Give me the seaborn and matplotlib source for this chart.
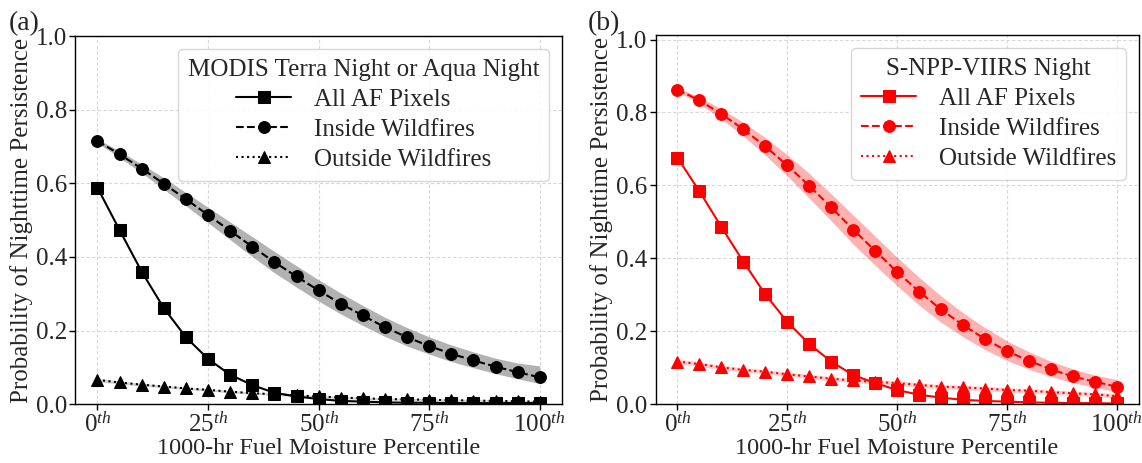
import numpy as np
import pandas as pd
import matplotlib
matplotlib.use('Agg')
import matplotlib.pyplot as plt
import seaborn as sns

percentiles = list(range(0, 101, 5))

# panel (a) MODIS
a_all = [0.588, 0.473, 0.36, 0.261, 0.182, 0.123, 0.08, 0.052, 0.031, 0.021, 0.014,
         0.009, 0.007, 0.005, 0.004, 0.004, 0.003, 0.003, 0.003, 0.003, 0.003]
a_in = [0.715, 0.679, 0.64, 0.599, 0.557, 0.514, 0.471, 0.428, 0.386, 0.347, 0.309,
        0.273, 0.241, 0.209, 0.182, 0.158, 0.137, 0.119, 0.102, 0.087, 0.073]
a_in_hi = [0.72, 0.688, 0.652, 0.615, 0.575, 0.535, 0.495, 0.455, 0.415, 0.376, 0.338,
           0.302, 0.268, 0.236, 0.208, 0.183, 0.161, 0.142, 0.125, 0.112, 0.104]
a_in_lo = [0.71, 0.67, 0.628, 0.584, 0.539, 0.493, 0.447, 0.401, 0.357, 0.318, 0.28,
           0.245, 0.214, 0.184, 0.158, 0.136, 0.116, 0.099, 0.083, 0.069, 0.056]
a_out = [0.066, 0.059, 0.053, 0.048, 0.043, 0.039, 0.034, 0.030, 0.027, 0.024, 0.021,
         0.018, 0.016, 0.014, 0.013, 0.012, 0.011, 0.010, 0.009, 0.008, 0.007]
a_out_hi = [0.071, 0.063, 0.057, 0.051, 0.046, 0.042, 0.037, 0.033, 0.030, 0.027, 0.024,
            0.021, 0.019, 0.017, 0.016, 0.015, 0.014, 0.013, 0.012, 0.011, 0.010]
a_out_lo = [0.061, 0.055, 0.049, 0.045, 0.040, 0.036, 0.031, 0.027, 0.024, 0.021, 0.018,
            0.015, 0.013, 0.011, 0.010, 0.009, 0.008, 0.007, 0.006, 0.005, 0.004]

# panel (b) VIIRS
b_all = [0.676, 0.584, 0.486, 0.391, 0.301, 0.226, 0.165, 0.117, 0.08, 0.058, 0.039,
         0.026, 0.018, 0.012, 0.009, 0.007, 0.005, 0.004, 0.003, 0.003, 0.002]
b_in = [0.863, 0.833, 0.796, 0.754, 0.707, 0.655, 0.599, 0.54, 0.479, 0.421, 0.363,
        0.309, 0.26, 0.217, 0.179, 0.146, 0.119, 0.096, 0.076, 0.062, 0.048]
b_in_hi = [0.868, 0.842, 0.81, 0.773, 0.731, 0.684, 0.633, 0.577, 0.519, 0.461, 0.403,
           0.348, 0.297, 0.251, 0.21, 0.174, 0.144, 0.118, 0.097, 0.08, 0.068]
b_in_lo = [0.858, 0.824, 0.782, 0.735, 0.683, 0.626, 0.565, 0.503, 0.439, 0.381, 0.325,
           0.272, 0.225, 0.185, 0.15, 0.12, 0.096, 0.076, 0.059, 0.046, 0.034]
b_out = [0.117, 0.110, 0.101, 0.094, 0.089, 0.082, 0.076, 0.070, 0.065, 0.061, 0.058,
         0.053, 0.048, 0.046, 0.043, 0.039, 0.037, 0.033, 0.030, 0.027, 0.022]
b_out_hi = [0.124, 0.116, 0.107, 0.100, 0.095, 0.088, 0.082, 0.076, 0.071, 0.067, 0.064,
            0.059, 0.054, 0.052, 0.049, 0.045, 0.043, 0.039, 0.036, 0.033, 0.029]
b_out_lo = [0.110, 0.104, 0.095, 0.088, 0.083, 0.076, 0.070, 0.064, 0.059, 0.055, 0.052,
            0.047, 0.042, 0.040, 0.037, 0.033, 0.031, 0.027, 0.024, 0.021, 0.016]

xtick_vals = [0, 25, 50, 75, 100]
xtick_labels = [r'$0^{th}$', r'$25^{th}$', r'$50^{th}$', r'$75^{th}$', r'$100^{th}$']

sns.set_style('whitegrid')
plt.rcParams['font.family'] = ['Liberation Serif', 'DejaVu Serif']
plt.rcParams['mathtext.fontset'] = 'custom'
plt.rcParams['mathtext.rm'] = 'Liberation Serif'
plt.rcParams['mathtext.it'] = 'Liberation Serif:italic'

fig = plt.figure(figsize=(11.42, 4.63), dpi=100)
ax1 = fig.add_axes([0.066, 0.127, 0.426, 0.795])
ax2 = fig.add_axes([0.574, 0.127, 0.423, 0.797])

panels = [
    (ax1, 'black', 'gray', 0.6, a_all, a_in, a_in_lo, a_in_hi, a_out, a_out_lo, a_out_hi,
     'MODIS Terra Night or Aqua Night', 1.0),
    (ax2, 'red', 'red', 0.3, b_all, b_in, b_in_lo, b_in_hi, b_out, b_out_lo, b_out_hi,
     'S-NPP-VIIRS Night', 1.012),
]

for ax, col, bcol, balpha, s_all, s_in, in_lo, in_hi, s_out, out_lo, out_hi, title, ytop in panels:
    df = pd.DataFrame({'pct': percentiles, 'all': s_all, 'in': s_in, 'out': s_out})
    ax.fill_between(percentiles, in_lo, in_hi, color=bcol, alpha=balpha, lw=0)
    ax.fill_between(percentiles, out_lo, out_hi, color=bcol, alpha=balpha * 0.6, lw=0)
    sns.lineplot(data=df, x='pct', y='all', ax=ax, color=col, marker='s', markersize=8.5,
                 linestyle='-', lw=1.5, markeredgecolor=col, label='All AF Pixels')
    sns.lineplot(data=df, x='pct', y='in', ax=ax, color=col, marker='o', markersize=8.5,
                 linestyle='--', lw=1.5, markeredgecolor=col, label='Inside Wildfires')
    sns.lineplot(data=df, x='pct', y='out', ax=ax, color=col, marker='^', markersize=8.5,
                 linestyle=':', lw=1.5, markeredgecolor=col, label='Outside Wildfires')
    ax.set_xlim(-5, 105)
    ax.set_ylim(0, ytop)
    ax.set_xticks(xtick_vals)
    ax.set_xticklabels(xtick_labels)
    ax.set_yticks([0, 0.2, 0.4, 0.6, 0.8, 1.0])
    ax.set_yticklabels(['0.0', '0.2', '0.4', '0.6', '0.8', '1.0'])
    ax.tick_params(labelsize=18, length=4, width=1, color='black', direction='out',
                   bottom=True, left=True, pad=2)
    ax.grid(True, color='#d8d8d8', linestyle=(0, (3, 2)), lw=0.8)
    for sp in ax.spines.values():
        sp.set_color('black')
        sp.set_linewidth(1.0)
    ax.set_xlabel('1000-hr Fuel Moisture Percentile', fontsize=17.5, labelpad=1)
    ax.set_ylabel('Probability of Nighttime Persistence', fontsize=18, labelpad=2)
    leg = ax.legend(title=title, loc='upper right', fontsize=18, title_fontsize=18,
                    handlelength=2.2, frameon=True, fancybox=True, framealpha=0.85,
                    borderpad=0.4, labelspacing=0.3, handletextpad=0.9)
    leg.get_frame().set_edgecolor('#d0d0d0')

fig.text(0.008, 0.935, '(a)', fontsize=20)
fig.text(0.515, 0.935, '(b)', fontsize=20)

fig.savefig('out.png', dpi=100)
